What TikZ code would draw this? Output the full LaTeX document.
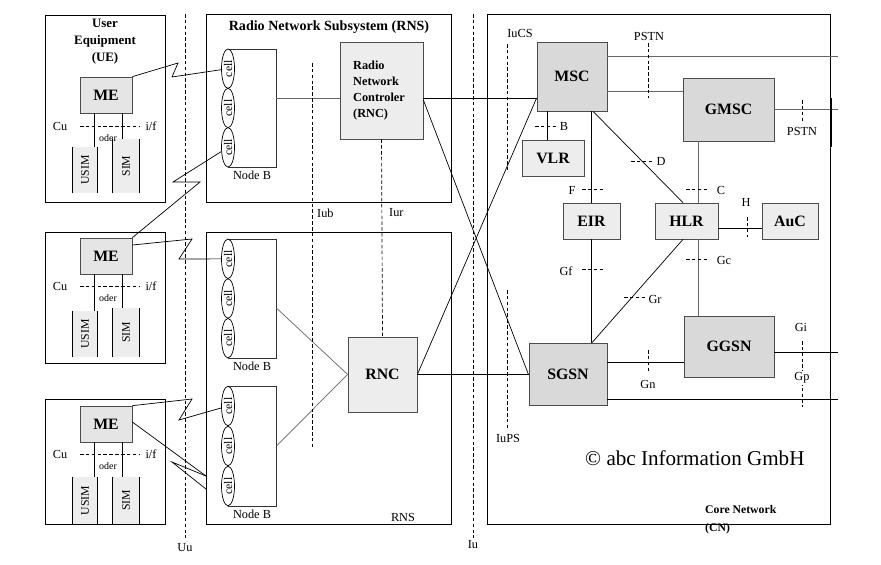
\documentclass[tikz,border=0pt]{standalone}
\usepackage{graphicx}
\usepackage{fontspec}
\setmainfont{Liberation Serif}
\usetikzlibrary{positioning,shapes.geometric}

\newcommand\pxu{0.03cm}
\definecolor{boxlt}{gray}{0.93}
\definecolor{boxme}{gray}{0.90}
\definecolor{boxdk}{gray}{0.85}

\tikzset{
  frame/.style={draw=black, line width=0.8pt},
  blk/.style 2 args={draw=black!70, line width=0.6pt, minimum width=#1*\pxu,
    minimum height=#2*\pxu, inner sep=0pt, font=\fontsize{13.5}{15}\selectfont\bfseries},
  simbox/.style 2 args={fill=boxlt, minimum width=#1*\pxu, minimum height=#2*\pxu,
    inner sep=0pt, font=\fontsize{10}{12}\selectfont},
  nodeb/.style={draw=black!80, line width=0.6pt, minimum width=48*\pxu, minimum height=#1*\pxu},
  cell/.style={ellipse, draw=black, fill=white, line width=0.6pt, inner sep=0pt,
    minimum width=13*\pxu, minimum height=39.5*\pxu, font=\fontsize{10}{12}\selectfont},
  conn/.style={line width=0.6pt},
  iface/.style={dashed, line width=0.6pt, dash pattern=on 3pt off 2pt},
  lbl/.style={inner sep=0pt, font=\fontsize{10.5}{12}\selectfont},
  small/.style={inner sep=0pt, font=\fontsize{8.5}{10}\selectfont},
  title/.style={inner sep=0pt, font=\fontsize{11}{14.5}\selectfont\bfseries}
}

\begin{document}
\begin{tikzpicture}[x=0.03cm, y=-0.03cm]
  \useasboundingbox (0,0) rectangle (881,564);

  % outer boxes
  \draw[frame] (45,15) rectangle (165,202);
  \draw[frame] (45,232) rectangle (165,363);
  \draw[frame] (45,399) rectangle (165,524);
  \draw[frame] (206,14) rectangle (451,202);
  \draw[frame] (206,232) rectangle (451,524);
  \draw[frame] (487,14) rectangle (830,524);

  % User Equipment
  \node[title, align=center] (uetitle) at (105,42) {User\\Equipment\\(UE)};
  \foreach \i/\y in {1/95, 2/256, 3/424}
    \node[blk={52}{36}, fill=boxme] (me\i) at (106,\y) {ME};

  \foreach \i/\yu/\hu/\ys/\hs in {1/170/46/166/54, 2/334/46/332.5/49, 3/500.5/47/500.5/47} {
    \node[simbox={24}{\hu}] (usim\i) at (85,\yu) {\rotatebox{90}{USIM}};
    \node[simbox={26}{\hs}] (sim\i) at (126,\ys) {\rotatebox{90}{SIM}};
    \draw[conn] (usim\i.north west) -- (usim\i.south west) (usim\i.north east) -- (usim\i.south east);
    \draw[conn] (sim\i.north west) -- (sim\i.south west) (sim\i.north east) -- (sim\i.south east);
    \draw[conn] (94,0 |- me\i.south) -- (94,0 |- usim\i.north);
    \draw[conn] (122,0 |- me\i.south) -- (122,0 |- sim\i.north);
  }
  \foreach \y in {126, 286, 454} {
    \draw[iface] (80,\y) -- (140,\y);
    \node[lbl] at (60,\y) {Cu};
    \node[lbl] at (151,\y) {i/f};
    \node[small] at (108,{\y+12}) {oder};
  }

  % Radio Network Subsystem
  \node[title, font=\fontsize{12}{14}\selectfont\bfseries] (rnstitle) at (329,27) {Radio Network Subsystem (RNS)};
  \node[lbl] (rnslbl) at (403,517) {RNS};
  \foreach \i/\yc/\h in {1/108/118, 2/298.5/119, 3/446/120} {
    \node[nodeb=\h] (nb\i) at (252,\yc) {};
    \node[lbl, below=3pt of nb\i] {Node B};
    \foreach \k in {0,1,2}
      \node[cell] (c\i\k) at (228,{\yc-\h/2+\h/6+\k*\h/3}) {\rotatebox{90}{cell}};
  }
  \node[blk={83}{97}, fill=boxlt, font=\fontsize{10.5}{13.6}\selectfont\bfseries,
    align=left, text width=1.7cm] (rnc1) at (381.5,90.5) {Radio\\Network\\Controler\\(RNC)};
  \node[blk={69}{75}, fill=boxlt] (rnc2) at (382.5,374.5) {RNC};

  % radio links
  \draw[conn] (me1.north east) -- (178,63) -- (172,77) -- (c10);
  \draw[conn] (c12) -- (173,182) -- (200,182) -- (me2.north east);
  \draw[conn] (me2.east |- 0,245) -- (192,239) -- (179,259) -- (c20);
  \draw[conn] (me3.north east) -- (192,399) -- (179,420) -- (c30);
  \coordinate (rx1) at (206,476);
  \coordinate (rx2) at (206,489);
  \draw[conn] (me3.east |- 0,422) -- (rx1);
  \draw[conn] (rx1) -- (172,462) -- (rx2);

  % Node B to RNC
  \draw[conn, black!60] (nb1.east |- 0,98) -- (rnc1.west |- 0,98);
  \draw[conn, black!60] (nb2.east |- 0,308) -- (rnc2.west);
  \draw[conn, black!60] (nb3.east) -- (rnc2.west);

  % Core Network
  \node[blk={70}{69}, fill=boxdk] (msc) at (572,76.5) {MSC};
  \node[blk={91}{63}, fill=boxdk] (gmsc) at (728.5,109.5) {GMSC};
  \node[blk={62}{36}, fill=boxlt] (vlr) at (553,158) {VLR};
  \node[blk={57}{36}, fill=boxlt] (eir) at (591.5,221) {EIR};
  \node[blk={63}{36}, fill=boxlt] (hlr) at (686.5,221) {HLR};
  \node[blk={56}{36}, fill=boxlt] (auc) at (790,221) {AuC};
  \node[blk={78}{62}, fill=boxdk] (sgsn) at (568,374) {SGSN};
  \node[blk={90}{61}, fill=boxdk] (ggsn) at (729,346.5) {GGSN};

  % RNC to core
  \draw[conn] (rnc1.east |- 0,98) -- (msc.west |- 0,98);
  \draw[conn] (rnc1.east |- 0,100) -- (sgsn.west |- 0,375);
  \draw[conn] (rnc2.east) -- (rnc2.east -| sgsn.west);
  \draw[conn] (rnc2.east) -- (msc.west |- 0,98);

  % core links
  \coordinate (out1) at (838,56);
  \coordinate (out2) at (838,109.5);
  \coordinate (out3) at (838,352);
  \coordinate (out4) at (838,399);
  \draw[conn, black!60] (msc.east |- out1) -- (out1);
  \draw[conn, black!60] (msc.east |- 0,91) -- (gmsc.west |- 0,91);
  \draw[conn, black!60] (gmsc.east) -- (out2);
  \draw[line width=1.6pt] (831,98) -- (831,147);
  \draw[conn] (547,0 |- msc.south) -- (547,0 |- vlr.north);
  \draw[conn] (eir.north |- msc.south) -- (eir.north);
  \draw[conn] (593,0 |- msc.south) -- (683,0 |- hlr.north);
  \draw[conn, black!60] (698,0 |- gmsc.south) -- (698,0 |- hlr.north);
  \draw[conn] (hlr.east |- 0,228) -- (auc.west |- 0,228);
  \draw[conn] (eir.south) -- (eir.south |- sgsn.north);
  \draw[conn] (683,0 |- hlr.south) -- (592,0 |- sgsn.north);
  \draw[conn, black!60] (698,0 |- hlr.south) -- (698,0 |- ggsn.north);
  \draw[conn] (sgsn.east |- 0,362) -- (ggsn.west |- 0,362);
  \draw[conn] (ggsn.east |- out3) -- (out3);
  \draw[conn] (sgsn.east |- out4) -- (out4);

  % interfaces
  \draw[iface] (185,14) -- (185,538);
  \node[lbl] at (185,548) {Uu};
  \draw[iface] (312,63) -- (312,448);
  \node[lbl, anchor=west] at (317,213) {Iub};
  \draw[iface] (rnc1.south) -- (rnc2.north);
  \node[lbl, anchor=west] at (389,213) {Iur};
  \draw[iface] (473,14) -- (473,538);
  \node[lbl] at (473,545) {Iu};
  \draw[iface] (507,44) -- (507,170);
  \node[lbl] at (520,33) {IuCS};
  \draw[iface] (507,290) -- (507,428);
  \node[lbl] at (508,438) {IuPS};

  \draw[iface] (648,43) -- (648,98);
  \node[lbl] at (649,36) {PSTN};
  \draw[iface] (802,100) -- (802,122);
  \node[lbl] at (802,131) {PSTN};
  \draw[iface] (535,126) -- (557,126);
  \node[lbl] at (564,126) {B};
  \draw[iface] (582,189) -- (603,189);
  \node[lbl] at (572,190) {F};
  \draw[iface] (631,161) -- (653,161);
  \node[lbl] at (661,161) {D};
  \draw[iface] (686,189) -- (708,189);
  \node[lbl] at (721,190) {C};
  \draw[iface] (747,217) -- (747,237);
  \node[lbl] at (746,202) {H};
  \draw[iface] (582,269) -- (603,269);
  \node[lbl] at (566,271) {Gf};
  \draw[iface] (624,297) -- (645,297);
  \node[lbl] at (655,299) {Gr};
  \draw[iface] (686,259) -- (708,259);
  \node[lbl] at (724,260) {Gc};
  \draw[iface] (648,350) -- (648,372);
  \node[lbl] at (648,384) {Gn};
  \draw[iface] (802,341) -- (802,407);
  \node[lbl] at (801,327) {Gi};
  \node[lbl, fill=white, inner sep=1pt] at (802,378) {Gp};

  \node[inner sep=0pt, anchor=west, font=\fontsize{18}{20}\selectfont] (copy) at (585,458) {© abc Information GmbH};
  \node[inner sep=0pt, anchor=west, align=left, font=\fontsize{10}{15.3}\selectfont\bfseries] (cnlbl) at (705,520) {Core Network\\(CN)};
\end{tikzpicture}
\end{document}
